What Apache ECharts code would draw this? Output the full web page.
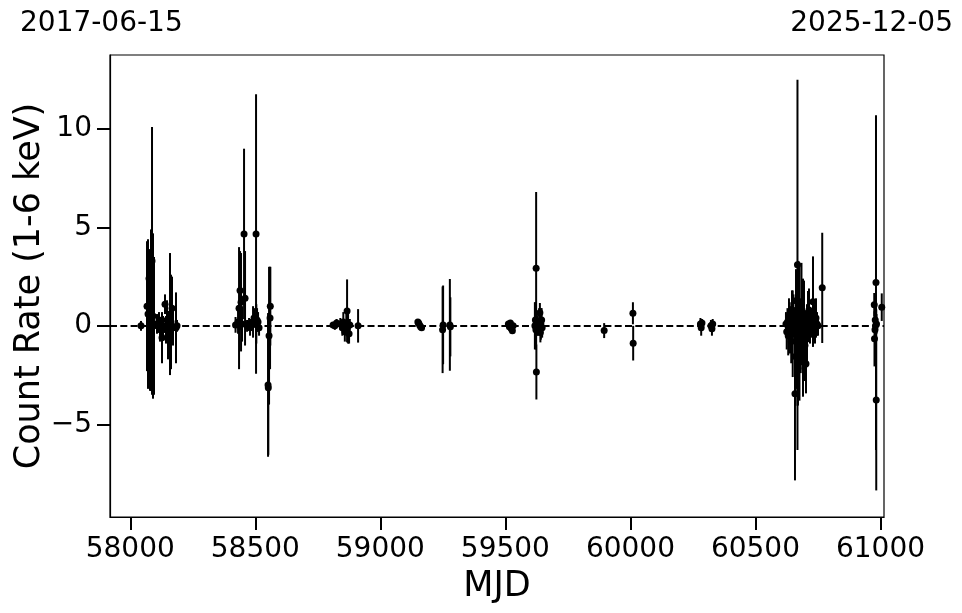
<!DOCTYPE html>
<html>
<head>
<meta charset="utf-8">
<script src="https://cdn.jsdelivr.net/npm/echarts@6/dist/echarts.min.js"></script>
<style>
  html, body { margin: 0; padding: 0; background: #fff; }
  #chart { width: 962px; height: 613px; }
</style>
</head>
<body>
<div id="chart"></div>
<script>
// light curve, one row per observation: MJD, count rate, 1-sigma error
const mjd = [
  58043, 58067, 58071, 58075, 58079, 58083, 58087, 58091, 58095, 58107, 58115, 58119,
  58127, 58131, 58139, 58143, 58147, 58151, 58159, 58163, 58167, 58171, 58183, 58187,
  58421, 58431, 58435, 58439, 58443, 58447, 58455, 58459, 58467, 58475, 58479, 58483,
  58491, 58495, 58503, 58504, 58507, 58511, 58515, 58551, 58552, 58555, 58559, 58560,
  58811, 58818, 58825, 58840, 58848, 58852, 58858, 58864, 58867, 58871, 58875, 58878, 58911,
  59150, 59153, 59157, 59161, 59165, 59249, 59251, 59278, 59280,
  59512, 59516, 59520, 59524, 59528, 59531, 59618, 59620, 59622, 59623, 59624, 59626,
  59628, 59635, 59638, 59640, 59642, 59645, 59647,
  59895, 60010, 60011,
  60280, 60283, 60286, 60322, 60326, 60329,
  60622, 60625, 60628, 60631, 60634, 60637, 60640, 60643, 60646, 60649, 60652, 60655,
  60658, 60660, 60662, 60664, 60666, 60668, 60670, 60672, 60675, 60676, 60678, 60681,
  60684, 60687, 60690, 60692, 60694, 60698, 60702, 60706, 60710, 60714, 60718, 60722,
  60726, 60730, 60734, 60738, 60742, 60746, 60750, 60767,
  60975, 60976, 60978, 60979, 60980, 60982, 60983, 60984, 61005
];
const rate = [
  0.0, 1.0, 0.6, 2.4, 0.2, 0.8, 3.3, 0.5, 0.0, 0.1, 0.3, -0.2,
  -0.6, 0.0, 1.1, -0.2, 0.3, -0.5, 0.6, 0.2, 0.9, -0.1, -0.1, 0.0,
  0.05, 0.2, 0.9, 1.8, 1.2, 0.1, 4.67, 1.4, 0.0, 0.1, -0.1, 0.05,
  0.2, 0.4, 4.67, 0.1, 0.3, 0.2, -0.1, -3.0, -3.15, -0.5, 0.4, 1.0,
  0.05, 0.0, 0.15, 0.1, -0.1, 0.2, -0.3, 0.1, 0.76, 0.0, -0.4, 0.05, 0.0,
  0.2, 0.15, 0.05, -0.05, -0.1, -0.2, 0.05, 0.05, -0.05,
  0.1, -0.05, 0.15, -0.15, -0.25, 0.0, 0.0, 0.3, -0.2, 2.93, -2.34, 0.1,
  0.0, 0.2, 0.66, -0.34, 0.1, 0.3, -0.1,
  -0.24, 0.64, -0.88,
  0.1, -0.1, 0.15, 0.0, -0.15, 0.1,
  0.1, -0.3, 0.2, -0.5, 0.0, 0.4, -0.2, -0.8, 0.3, -0.4, 0.6, -0.1,
  -3.45, -1.56, 1.28, -0.2, 0.3, 3.1, -2.15, 0.5, -0.4, -0.3, 0.2, -0.9,
  0.6, -0.2, -0.6, 0.1, 0.3, -1.0, -1.93, -0.5, 0.47, 0.8, 0.0, 0.2,
  -0.1, 1.23, 0.3, -0.2, 0.4, 0.1, 0.0, 1.93,
  1.07, -0.66, -0.2, 0.3, 0.0, 2.2, -3.76, 0.1, 0.95
];
const rateErr = [
  0.25, 3.3, 3.8, 1.5, 3.5, 4.1, 6.8, 4.2, 3.5, 0.5, 0.4, 0.6,
  1.3, 0.5, 0.5, 0.7, 1.0, 1.2, 3.1, 2.4, 1.6, 0.9, 1.8, 0.3,
  0.4, 0.6, 3.1, 2.0, 2.5, 0.9, 4.33, 2.4, 0.3, 0.3, 0.4, 0.3,
  0.8, 0.5, 7.1, 1.0, 0.6, 0.5, 0.4, 3.65, 3.4, 3.5, 2.6, 2.0,
  0.15, 0.2, 0.2, 0.3, 0.4, 0.5, 0.5, 0.6, 1.6, 0.9, 0.5, 0.3, 0.85,
  0.1, 0.1, 0.1, 0.15, 0.1, 2.2, 2.0, 2.33, 1.5,
  0.15, 0.2, 0.15, 0.15, 0.15, 0.1, 1.2, 0.9, 1.0, 3.87, 1.4, 0.6,
  0.5, 0.7, 0.5, 0.5, 0.8, 0.6, 0.5,
  0.38, 0.56, 0.88,
  0.3, 0.4, 0.2, 0.3, 0.35, 0.25,
  0.6, 0.9, 0.7, 1.0, 1.4, 0.8, 1.2, 1.1, 1.5, 2.2, 1.0, 0.8,
  4.4, 2.5, 1.6, 3.0, 2.0, 9.4, 1.9, 2.8, 1.6, 3.5, 1.2, 1.5,
  2.6, 1.0, 3.0, 1.4, 2.0, 1.8, 1.5, 1.6, 1.3, 1.1, 0.9, 0.6,
  0.5, 2.3, 0.8, 0.7, 1.0, 0.6, 0.5, 2.8,
  0.6, 1.4, 0.8, 0.7, 1.2, 8.5, 4.6, 0.5, 0.7
];

const xTicks = [58000, 58500, 59000, 59500, 60000, 60500, 61000];
const yTicks = [-5, 0, 5, 10];
const xRange = [57919, 61014];
const yRange = [-9.71, 13.76];
const startDate = '2017-06-15';
const endDate = '2025-12-05';

const FONT = 'DejaVu Sans';
const points = mjd.map((m, i) => [m, rate[i], rateErr[i]]);

const chart = echarts.init(document.getElementById('chart'));

// matplotlib style minus sign
function fmtY(v) {
  return v < 0 ? '\u2212' + Math.abs(v) : String(v);
}

const tickStyle = { color: '#000', width: 2 };

chart.setOption({
  animation: false,
  backgroundColor: '#fff',
  grid: {
    left: 110, right: 78, top: 55, bottom: 96,
    containLabel: false,
    outerBoundsMode: 'none',
    show: true, borderColor: '#000', borderWidth: 1.2, backgroundColor: 'transparent'
  },
  xAxis: {
    type: 'value',
    min: xRange[0],
    max: xRange[1],
    splitLine: { show: false },
    axisLine: { show: true, onZero: false, lineStyle: { color: '#000', width: 1.2 } },
    axisTick: { show: true, inside: false, customValues: xTicks, length: 13, lineStyle: tickStyle },
    axisLabel: {
      customValues: xTicks, color: '#000', fontFamily: FONT, fontSize: 28, margin: 19,
      formatter: v => String(v)
    },
    name: 'MJD',
    nameLocation: 'middle',
    nameGap: 52,
    nameTextStyle: { color: '#000', fontFamily: FONT, fontSize: 35 }
  },
  yAxis: {
    type: 'value',
    min: yRange[0],
    max: yRange[1],
    splitLine: { show: false },
    axisLine: { show: true, onZero: false, lineStyle: { color: '#000', width: 1.2 } },
    axisTick: { show: true, inside: false, customValues: yTicks, length: 13, lineStyle: tickStyle },
    axisLabel: {
      customValues: yTicks, color: '#000', fontFamily: FONT, fontSize: 28, margin: 18,
      formatter: fmtY
    },
    name: 'Count Rate (1-6 keV)',
    nameLocation: 'middle',
    nameGap: 63,
    nameMoveOverlap: false,
    nameTextStyle: { color: '#000', fontFamily: FONT, fontSize: 35 }
  },
  graphic: [
    {
      type: 'text', left: 20, top: 10,
      style: { text: startDate, fill: '#000', font: '28px "DejaVu Sans"' }
    },
    {
      type: 'text', right: 9, top: 10,
      style: { text: endDate, fill: '#000', font: '28px "DejaVu Sans"' }
    }
  ],
  series: [
    {
      // error bars
      type: 'custom',
      data: points,
      encode: { x: 0, y: 1 },
      clip: true,
      z: 2,
      renderItem: function (params, api) {
        const x = api.value(0);
        const lo = api.coord([x, api.value(1) - api.value(2)]);
        const hi = api.coord([x, api.value(1) + api.value(2)]);
        return {
          type: 'line',
          shape: { x1: lo[0], y1: lo[1], x2: hi[0], y2: hi[1] },
          style: { stroke: '#000', lineWidth: 2 }
        };
      },
      markLine: {
        silent: true,
        symbol: 'none',
        label: { show: false },
        lineStyle: { color: '#000', width: 2, type: [7, 3.3] },
        data: [{ yAxis: 0 }]
      }
    },
    {
      type: 'scatter',
      data: points,
      encode: { x: 0, y: 1 },
      symbol: 'circle',
      symbolSize: 7,
      itemStyle: { color: '#000', opacity: 1 },
      z: 3
    }
  ]
});
</script>
</body>
</html>
